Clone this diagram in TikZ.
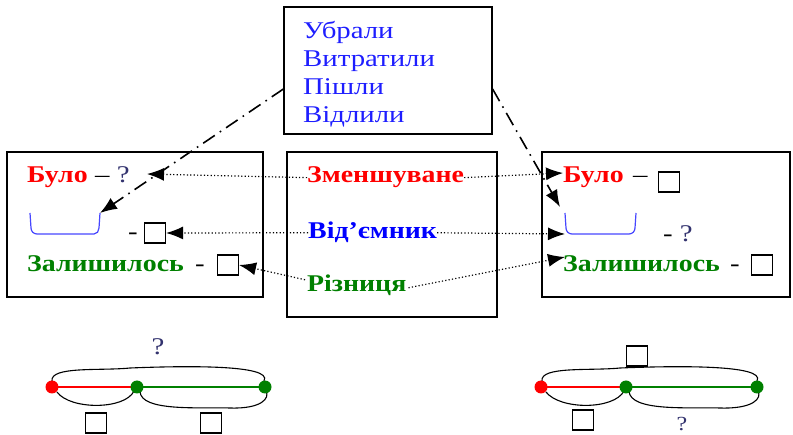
\documentclass[tikz,border=0pt]{standalone}
\usepackage{fontspec}
\setmainfont{Liberation Serif}[FakeStretch=1.2]
\newfontfamily\partfont{Liberation Serif}[FakeStretch=1.16]
\usepackage{xcolor}
\usepackage{tikz}
\usetikzlibrary{positioning, calc, arrows.meta}

\definecolor{minred}{RGB}{255,0,0}
\definecolor{subblue}{RGB}{0,0,255}
\definecolor{difgreen}{RGB}{0,128,0}
\definecolor{wordblue}{RGB}{30,30,255}
\definecolor{brblue}{RGB}{70,70,255}
\definecolor{qnavy}{RGB}{50,50,110}

\begin{document}
\begin{tikzpicture}[x=1pt, y=-1pt,
    frame/.style={draw, line width=1.2pt, inner sep=0pt},
    txt/.style={font=\fontsize{24}{28}\selectfont, inner sep=0pt, anchor=base west},
    btxt/.style={txt, font=\fontsize{24}{28}\partfont\bfseries},
    sq/.style={draw, line width=1.1pt, minimum width=21pt, minimum height=20pt, inner sep=0pt},
    dotarrow/.style={line width=1.2pt, dash pattern=on 1.2pt off 2.2pt, -{Latex[length=17pt, width=13pt]}},
    dasharrow/.style={line width=1.6pt, dash pattern=on 14pt off 6pt on 1.6pt off 6pt, -{Latex[length=17pt, width=13pt]}},
    brace/.style={brblue, line width=1.2pt},
    loop/.style={line width=1.1pt},
    seg/.style={line width=2.8pt}]

    \useasboundingbox (0,0) rectangle (793,435);

    % Upper box with the words for taking away
    \node[frame, minimum width=208pt, minimum height=127pt] (words) at (388,70.5) {};
    \node[txt, text=wordblue] (word1) at (303,39) {Убрали};
    \node[txt, text=wordblue] (word2) at (303,67) {Витратили};
    \node[txt, text=wordblue] (word3) at (303,95) {Пішли};
    \node[txt, text=wordblue] (word4) at (303,123) {Відлили};

    % Three frames of the middle row
    \node[frame, minimum width=256pt, minimum height=145pt] (leftbox) at (135,224.5) {};
    \node[frame, minimum width=210pt, minimum height=165pt] (midbox) at (392,234.5) {};
    \node[frame, minimum width=248pt, minimum height=145pt] (rightbox) at (666,224.5) {};

    % Middle frame: names of the parts
    \node[btxt, text=minred] (minuend) at (307,183) {Зменшуване};
    \node[btxt, text=subblue] (subtr) at (308,239) {Від’ємник};
    \node[btxt, text=difgreen] (diff) at (307,292) {Різниця};

    % Left frame
    \node[btxt, text=minred] (was1) at (27,183) {Було};
    \node[txt] (was1q) at (95,183) {– {\color{qnavy}?}};
    \draw[brace] (30,213) -- (31,228) to[out=-90, in=180] (37,234) -- (94,234)
                 to[out=0, in=-90] (99,228) -- (100,213) coordinate (br1);
    \node[txt] at (128,240) {-};
    \node[sq] (box1) at (155,233) {};
    \node[btxt, text=difgreen] (left1) at (27,272) {Залишилось};
    \node[txt] at (195,272) {-};
    \node[sq] (box2) at (228,265) {};

    % Right frame
    \node[btxt, text=minred] (was2) at (563,183) {Було};
    \node[txt] at (633,183) {–};
    \node[sq] (box3) at (669,182) {};
    \draw[brace] (565,213) -- (566,228) to[out=-90, in=180] (572,234)
                 -- (629,234) to[out=0, in=-90] (635,228) -- (636,213);
    \node[txt] (q2) at (663,242) {- {\color{qnavy}?}};
    \node[btxt, text=difgreen] (left2) at (563,272) {Залишилось};
    \node[txt] at (730,272) {-};
    \node[sq] (box4) at (762,265) {};

    % Arrow tips that end beside a text
    \coordinate (tipq) at (147,174);
    \coordinate (tipwas) at (563,173);
    \coordinate (tipbr) at (565,234);
    \coordinate (tipleft) at (565,257);
    \coordinate (tipdash) at (560,207);

    % Dotted links from the part names
    \draw[dotarrow] (minuend.west) -- (tipq);
    \draw[dotarrow] (minuend.east) -- (tipwas);
    \draw[dotarrow] (subtr.west) -- (box1.east);
    \draw[dotarrow] (subtr.east) -- (tipbr);
    \draw[dotarrow] ($(diff.west)+(-2,-6)$) -- (box2.east);
    \draw[dotarrow] ($(diff.east)+(2,2)$) -- (tipleft);

    % Dash-dot links from the upper box
    \draw[dasharrow] (words.west |- 0,89) -- (br1);
    \draw[dasharrow] (words.east |- 0,89) -- (tipdash);

    % Lower left segment picture
    \draw[loop] (52,381) .. controls (50,366) and (100,371) .. (130,368)
                .. controls (180,366) and (274,364) .. (264,381);
    \draw[loop] (57,392) .. controls (70,410) and (125,410) .. (134,391);
    \draw[loop] (140,391) .. controls (140,412) and (200,407) .. (230,408)
                .. controls (262,409) and (270,398) .. (266,391);
    \coordinate (a1) at (52,387);
    \coordinate (b1) at (137,387);
    \coordinate (c1) at (265,387);
    \draw[seg, minred] (a1) -- (b1);
    \draw[seg, difgreen] (b1) -- (c1);
    \fill[minred] (a1) circle (6.5pt);
    \fill[difgreen] (b1) circle (6.5pt);
    \fill[difgreen] (c1) circle (6.5pt);
    \node[txt, anchor=center, text=qnavy] (top1) at (158,347) {?};
    \node[sq] (low1) at (96,423) {};
    \node[sq] (low2) at (211,423) {};

    % Lower right segment picture
    \draw[loop] (542,381) .. controls (540,366) and (590,371) .. (620,368)
                .. controls (670,366) and (767,364) .. (757,381);
    \draw[loop] (546,392) .. controls (560,410) and (614,410) .. (624,391);
    \draw[loop] (629,391) .. controls (630,412) and (690,407) .. (720,408)
                .. controls (754,409) and (762,398) .. (758,391);
    \coordinate (a2) at (541,387);
    \coordinate (b2) at (626,387);
    \coordinate (c2) at (757,387);
    \draw[seg, minred] (a2) -- (b2);
    \draw[seg, difgreen] (b2) -- (c2);
    \fill[minred] (a2) circle (6.5pt);
    \fill[difgreen] (b2) circle (6.5pt);
    \fill[difgreen] (c2) circle (6.5pt);
    \node[sq] (top2) at (637,356) {};
    \node[sq] (low3) at (583,420) {};
    \node[txt, anchor=base, font=\fontsize{20}{22}\selectfont, text=qnavy] (low4) at (682,431) {?};

\end{tikzpicture}
\end{document}
